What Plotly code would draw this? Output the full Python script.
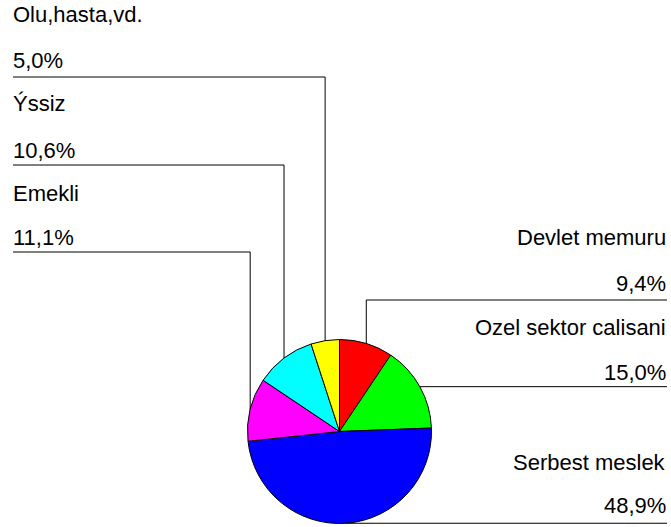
import math
import plotly.graph_objects as go

# Data: share of each group, clockwise from 12 o'clock
labels = ["Devlet memuru", "Ozel sektor calisani", "Serbest meslek",
          "Emekli", "Ýssiz", "Olu,hasta,vd."]
values = [9.4, 15.0, 48.9, 11.1, 10.6, 5.0]
colors = ["#FF0000", "#00FF00", "#0000FF", "#FF00FF", "#00FFFF", "#FFFF00"]

W, H = 671, 527
CX, CY, R = 339.5, 431.5, 92.0          # pie centre / radius in pixels
FONT = dict(family="Liberation Sans, Arial, sans-serif", size=22, color="#000000")

fig = go.Figure()
fig.add_trace(go.Pie(
    labels=labels, values=values, sort=False, direction="clockwise",
    rotation=0, textinfo="none", hoverinfo="label+percent",
    marker=dict(colors=colors, line=dict(color="#000000", width=1)),
    domain=dict(x=[(CX - R) / W, (CX + R) / W],
                y=[(H - CY - R) / H, (H - CY + R) / H]),
    showlegend=False,
))

# Mid-angle anchor of each slice on the rim
total = sum(values)
anchors = []
cum = 0.0
for v in values:
    mid = (cum + v / 2) / total * 2 * math.pi
    anchors.append((CX + R * math.sin(mid), CY - R * math.cos(mid)))
    cum += v

def pct(v):
    return f"{v:.1f}%".replace(".", ",")

shapes = []
annotations = []

def line(x0, y0, x1, y1):
    shapes.append(dict(type="line", xref="x", yref="y", x0=x0, y0=y0, x1=x1, y1=y1,
                       line=dict(color="#000000", width=1)))

def label(x, y, text, anchor):
    annotations.append(dict(x=x, y=y, xref="x", yref="y", text=text, showarrow=False,
                            xanchor=anchor, yanchor="middle", font=FONT))

# Left-side callouts (Olu, Issiz, Emekli)
left = {5: (77, 14, 60), 4: (165, 103, 150), 3: (252, 193, 237)}
for i, (elbow, y_name, y_pct) in left.items():
    ax, ay = anchors[i]
    line(ax, ay, ax, elbow)
    line(ax, elbow, 13, elbow)
    label(11, y_name, labels[i], "left")
    label(11, y_pct, pct(values[i]), "left")

# Right-side callouts (Devlet, Ozel, Serbest)
ax, ay = anchors[0]
line(ax, ay, ax, 300)
line(ax, 300, 667, 300)
ax, ay = anchors[1]
line(ax, ay, 667, ay)
ax, ay = anchors[2]
line(ax, ay, 667, ay)
right = {0: (237, 283), 1: (327, 372), 2: (462, 505)}
for i, (y_name, y_pct) in right.items():
    label(668, y_name, labels[i], "right")
    label(668, y_pct, pct(values[i]), "right")

fig.update_layout(
    width=W, height=H, margin=dict(l=0, r=0, t=0, b=0),
    paper_bgcolor="#FFFFFF", plot_bgcolor="rgba(0,0,0,0)",
    xaxis=dict(range=[0, W], visible=False, fixedrange=True),
    yaxis=dict(range=[H, 0], visible=False, fixedrange=True),
    shapes=shapes, annotations=annotations,
)
fig.write_html("out.html")
